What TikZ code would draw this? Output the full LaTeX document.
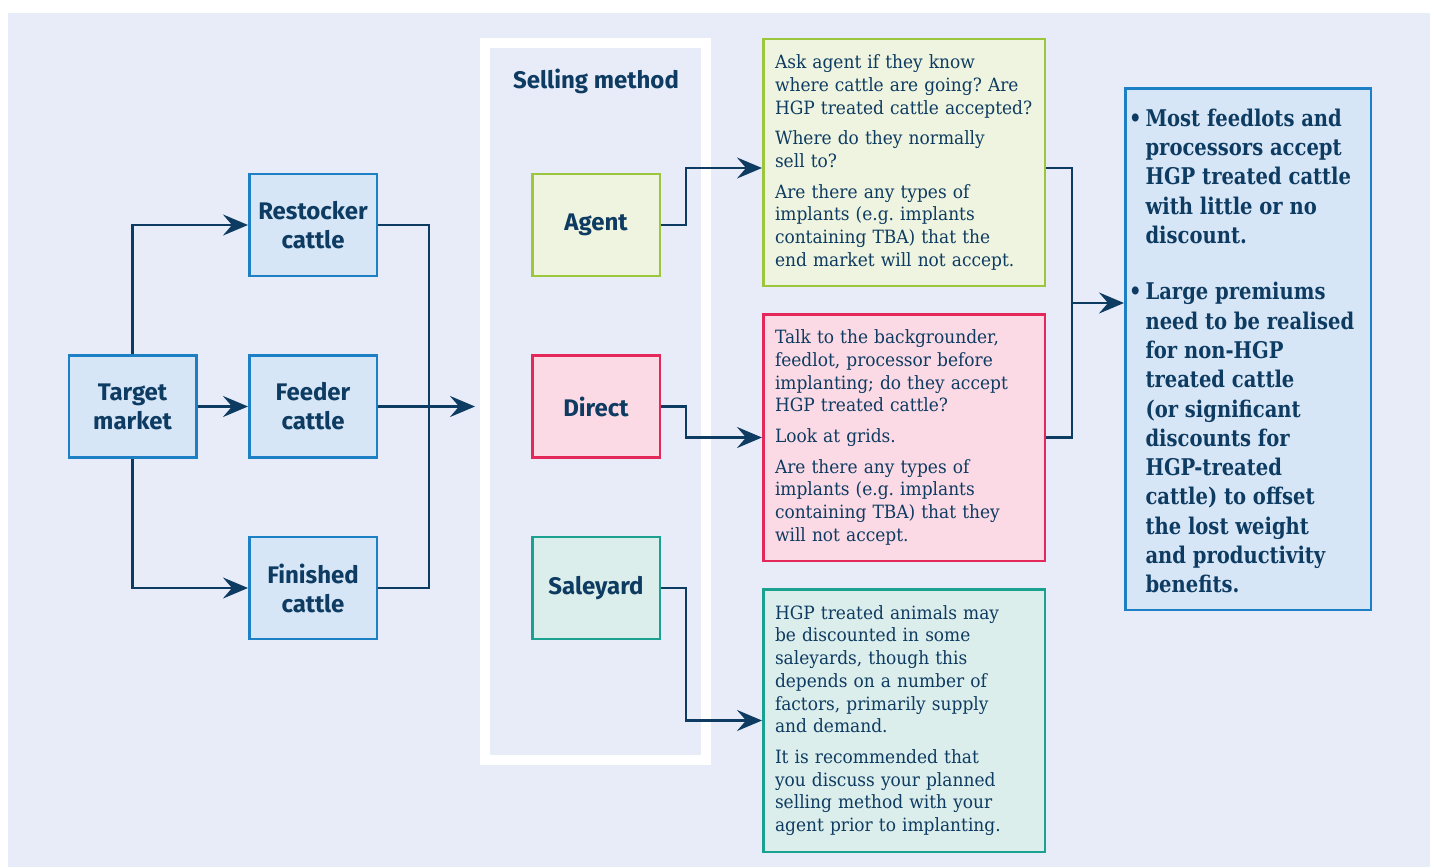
\documentclass[tikz,border=0pt]{standalone}
\usepackage{fontspec}
\setmainfont{DejaVu Serif}
\newfontfamily\labelfont{Fira Sans}
\newfontfamily\bodyfont[FakeStretch=0.93]{DejaVu Serif}
\newfontfamily\sumfont[FakeStretch=0.85]{DejaVu Serif}
\usetikzlibrary{arrows.meta}
\frenchspacing
\definecolor{navy}{HTML}{0E3B61}
\definecolor{pagebg}{HTML}{E8ECF8}
\definecolor{bborder}{HTML}{1D7FC4}
\definecolor{bfill}{HTML}{D6E6F7}
\definecolor{gborder}{HTML}{9CC63B}
\definecolor{gfill}{HTML}{EEF4DF}
\definecolor{rborder}{HTML}{E4285A}
\definecolor{rfill}{HTML}{FBDAE5}
\definecolor{tborder}{HTML}{1BA190}
\definecolor{tfill}{HTML}{DCEEEC}
\tikzset{
  box/.style={draw=#1border, fill=#1fill, line width=2.5pt, inner sep=0pt,
    minimum width=127.5pt, minimum height=102pt, align=center, text=navy,
    font=\labelfont\bfseries\fontsize{24}{29}\selectfont},
  info/.style={draw=#1border, fill=#1fill, line width=2.5pt, inner xsep=11.5pt, inner ysep=0pt,
    minimum width=281.5pt, text width=258pt, align=left, text=navy,
    font=\bodyfont\fontsize{18.3}{22.7}\selectfont},
  conn/.style={draw=navy, line width=2.5pt},
  arr/.style={conn, -{Stealth[length=25pt,width=21pt,inset=9pt]}},
}
\begin{document}
\begin{tikzpicture}[x=1pt,y=-1pt]
\useasboundingbox (0,0) rectangle (1434,867);
\fill[pagebg] (8,13) rectangle (1430,867);

% left column
\node[box=b] (target) at (132.5,406.5) {Target\\market};
\node[box=b] (restock) at (313,225) {Restocker\\cattle};
\node[box=b] (feeder) at (313,406.5) {Feeder\\cattle};
\node[box=b] (finished) at (313,588) {Finished\\cattle};

% selling method frame
\node[draw=white, fill=pagebg, line width=10pt, minimum width=221pt, minimum height=717pt] (frame) at (595.5,401.5) {};
\node[text=navy, font=\labelfont\bfseries\fontsize{24}{29}\selectfont] (title) at (596,81) {Selling method};
\node[box=g] (agent) at (596,225) {Agent};
\node[box=r] (direct) at (596,406.5) {Direct};
\node[box=t] (saleyard) at (596,588) {Saleyard};

% info boxes
\node[info=g, minimum height=246.5pt] (agentinfo) at (904,162.5) {Ask agent if they know\\where cattle are going? Are\\HGP treated cattle accepted?\\[8pt]Where do they normally\\sell to?\\[8pt]Are there any types of\\implants (e.g. implants\\containing TBA) that the\\end market will not accept.};
\node[info=r, minimum height=246.5pt] (directinfo) at (904,437.5) {Talk to the backgrounder,\\feedlot, processor before\\implanting; do they accept\\HGP treated cattle?\\[8pt]Look at grids.\\[8pt]Are there any types of\\implants (e.g. implants\\containing TBA) that they\\will not accept.};
\node[info=t, minimum height=262.5pt] (saleinfo) at (904,720.5) {HGP treated animals may\\be discounted in some\\saleyards, though this\\depends on a number of\\factors, primarily supply\\and demand.\\[8pt]It is recommended that\\you discuss your planned\\selling method with your\\agent prior to implanting.};

% summary
\node[draw=bborder, fill=bfill, line width=2.5pt, minimum width=245.5pt, minimum height=521.5pt, inner sep=0pt] (summary) at (1248,349) {};
\node[text=navy, align=left, inner sep=0pt, anchor=west, font=\sumfont\bfseries\fontsize{23}{29.3}\selectfont] (sumtext) at (1129,351)
{\textbullet\,Most feedlots and\\\hphantom{\textbullet\,}processors accept\\\hphantom{\textbullet\,}HGP treated cattle\\\hphantom{\textbullet\,}with little or no\\\hphantom{\textbullet\,}discount.\\[27pt]
\textbullet\,Large premiums\\\hphantom{\textbullet\,}need to be realised\\\hphantom{\textbullet\,}for non-HGP\\\hphantom{\textbullet\,}treated cattle\\\hphantom{\textbullet\,}(or significant\\\hphantom{\textbullet\,}discounts for\\\hphantom{\textbullet\,}HGP-treated\\\hphantom{\textbullet\,}cattle) to offset\\\hphantom{\textbullet\,}the lost weight\\\hphantom{\textbullet\,}and productivity\\\hphantom{\textbullet\,}benefits.};

% connectors left
\draw[arr] (target.north) |- (restock.west);
\draw[arr] (target.east) -- (feeder.west);
\draw[arr] (target.south) |- (finished.west);
\coordinate (jl) at (429,406.5);
\draw[conn] (restock.east) -| (jl) |- (finished.east);
\draw[arr] (feeder.east) -- ([xshift=-5pt]feeder.east -| frame.west);

% connectors middle
\coordinate (a1) at (686,168);
\coordinate (a2) at (686,437.5);
\coordinate (a3) at (686,720.5);
\draw[arr] (agent.east) -| (a1) -- (a1 -| agentinfo.west);
\draw[arr] (direct.east) -| (a2) -- (directinfo.west);
\draw[arr] (saleyard.east) -| (a3) -- (saleinfo.west);

% connectors right
\coordinate (jr) at (1072,303);
\coordinate (jrt) at (1072,168);
\draw[conn] (agentinfo.east |- jrt) -- (jrt) |- (directinfo.east);
\draw[arr] (jr) -- (jr -| summary.west);
\end{tikzpicture}
\end{document}
